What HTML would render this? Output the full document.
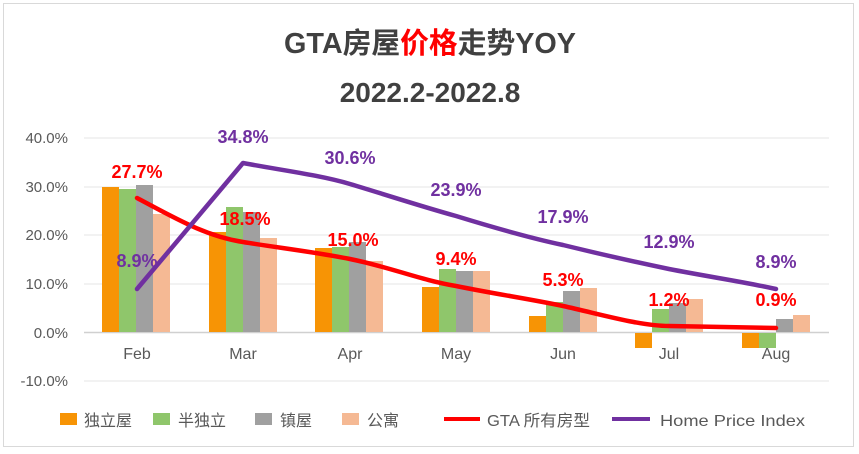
<!DOCTYPE html>
<html><head><meta charset="utf-8"><style>
body{margin:0;background:#fff}
svg{display:block;font-family:"Liberation Sans","Noto Sans CJK SC",sans-serif}
</style></head><body>
<svg width="859" height="454" viewBox="0 0 859 454">
<rect x="3.5" y="3.5" width="850" height="443" fill="#fff" stroke="#d9d9d9"/>
<text x="430" y="53" text-anchor="middle" font-size="29" font-weight="bold" fill="#404040" textLength="292" lengthAdjust="spacingAndGlyphs">GTA房屋<tspan fill="#ff0000">价格</tspan>走势YOY</text>
<text x="430" y="102" text-anchor="middle" font-size="28" font-weight="bold" fill="#404040">2022.2-2022.8</text>
<g stroke="#e6e6e6" stroke-width="1">
<line x1="84" x2="829" y1="138" y2="138"/><line x1="84" x2="829" y1="187" y2="187"/>
<line x1="84" x2="829" y1="235" y2="235"/><line x1="84" x2="829" y1="284" y2="284"/>
<line x1="84" x2="829" y1="381" y2="381"/>
</g>
<line x1="84" x2="829" y1="332.5" y2="332.5" stroke="#d0d0d0" stroke-width="1.5"/>
<g font-size="15" fill="#595959" text-anchor="end">
<text x="68" y="143">40.0%</text><text x="68" y="192">30.0%</text><text x="68" y="240">20.0%</text>
<text x="68" y="289">10.0%</text><text x="68" y="338">0.0%</text><text x="68" y="386">-10.0%</text>
</g>
<g id="bars">
<rect x="102" y="187" width="17" height="145" fill="#f79405"/>
<rect x="119" y="189" width="17" height="143" fill="#8fc66b"/>
<rect x="136" y="185" width="17" height="147" fill="#a0a0a0"/>
<rect x="153" y="214" width="17" height="118" fill="#f5b994"/>
<rect x="209" y="232" width="17" height="100" fill="#f79405"/>
<rect x="226" y="207" width="17" height="125" fill="#8fc66b"/>
<rect x="243" y="212" width="17" height="120" fill="#a0a0a0"/>
<rect x="260" y="238" width="17" height="94" fill="#f5b994"/>
<rect x="315" y="248" width="17" height="84" fill="#f79405"/>
<rect x="332" y="247" width="17" height="85" fill="#8fc66b"/>
<rect x="349" y="242" width="17" height="90" fill="#a0a0a0"/>
<rect x="366" y="261" width="17" height="71" fill="#f5b994"/>
<rect x="422" y="287" width="17" height="45" fill="#f79405"/>
<rect x="439" y="269" width="17" height="63" fill="#8fc66b"/>
<rect x="456" y="271" width="17" height="61" fill="#a0a0a0"/>
<rect x="473" y="271" width="17" height="61" fill="#f5b994"/>
<rect x="529" y="316" width="17" height="16" fill="#f79405"/>
<rect x="546" y="302" width="17" height="30" fill="#8fc66b"/>
<rect x="563" y="291" width="17" height="41" fill="#a0a0a0"/>
<rect x="580" y="288" width="17" height="44" fill="#f5b994"/>
<rect x="635" y="333" width="17" height="15" fill="#f79405"/>
<rect x="652" y="309" width="17" height="23" fill="#8fc66b"/>
<rect x="669" y="303" width="17" height="29" fill="#a0a0a0"/>
<rect x="686" y="299" width="17" height="33" fill="#f5b994"/>
<rect x="742" y="333" width="17" height="15" fill="#f79405"/>
<rect x="759" y="333" width="17" height="15" fill="#8fc66b"/>
<rect x="776" y="319" width="17" height="13" fill="#a0a0a0"/>
<rect x="793" y="315" width="17" height="17" fill="#f5b994"/>
</g>
<path d="M137,198 C175,218 205,236 243,242 C280,248 315,252 350,259 C390,267 420,280 456,286 C495,294 530,299 563,306 C600,314 640,326 669,326 L776,328" fill="none" stroke="#ff0000" stroke-width="4.5" stroke-linecap="round" stroke-linejoin="round"/>
<path d="M137,289 L243,163 C280,170 320,175 350,184 C390,196 420,206 456,216 C495,228 530,238 563,245 C600,254 640,263 669,269 C710,277 745,282 776,289" fill="none" stroke="#7030a0" stroke-width="4.5" stroke-linecap="round" stroke-linejoin="round"/>
<g font-size="18" font-weight="bold" fill="#ff0000" text-anchor="middle">
<text x="137" y="178">27.7%</text><text x="245" y="225">18.5%</text><text x="353" y="246">15.0%</text>
<text x="456" y="265">9.4%</text><text x="563" y="286">5.3%</text><text x="669" y="306">1.2%</text><text x="776" y="306">0.9%</text>
</g>
<g font-size="18" font-weight="bold" fill="#7030a0" text-anchor="middle">
<text x="137" y="267">8.9%</text><text x="243" y="143">34.8%</text><text x="350" y="164">30.6%</text>
<text x="456" y="196">23.9%</text><text x="563" y="223">17.9%</text><text x="669" y="248">12.9%</text><text x="776" y="268">8.9%</text>
</g>
<g font-size="16" fill="#595959" text-anchor="middle">
<text x="137" y="359">Feb</text><text x="243" y="359">Mar</text><text x="350" y="359">Apr</text><text x="456" y="359">May</text>
<text x="563" y="359">Jun</text><text x="669" y="359">Jul</text><text x="776" y="359">Aug</text>
</g>
<g font-size="16" fill="#595959">
<rect x="60" y="413" width="17" height="12" fill="#f79405"/><text x="84" y="426">独立屋</text>
<rect x="153" y="413" width="17" height="12" fill="#8fc66b"/><text x="178" y="426">半独立</text>
<rect x="255" y="413" width="17" height="12" fill="#a0a0a0"/><text x="280" y="426">镇屋</text>
<rect x="342" y="413" width="17" height="12" fill="#f5b994"/><text x="367" y="426">公寓</text>
<line x1="444" x2="480" y1="419" y2="419" stroke="#ff0000" stroke-width="4"/><text x="487" y="426" textLength="103" lengthAdjust="spacingAndGlyphs">GTA 所有房型</text>
<line x1="612" x2="650" y1="419" y2="419" stroke="#7030a0" stroke-width="4"/><text x="660" y="426" textLength="145" lengthAdjust="spacingAndGlyphs">Home Price Index</text>
</g>
</svg>
</body></html>
